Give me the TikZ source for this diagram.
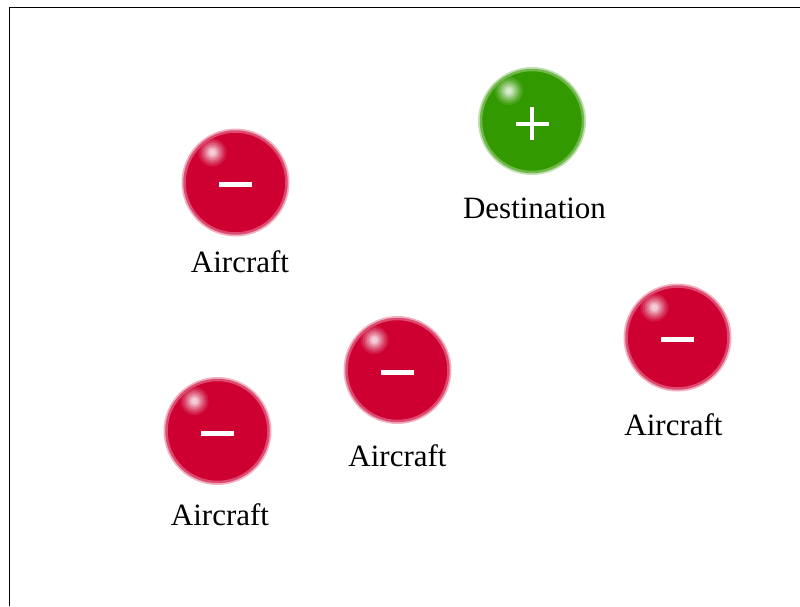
\documentclass[tikz,border=0pt]{standalone}
\usepackage{fontspec}
\setmainfont{Liberation Serif}
\definecolor{ballred}{RGB}{206,0,50}
\definecolor{ballgreen}{RGB}{51,153,0}
\begin{document}
\begin{tikzpicture}[x=1pt,y=-1pt,
  ball/.style={circle, minimum size=102pt, inner sep=0pt, fill=#1, draw=#1!70, line width=2.5pt,
    preaction={draw=#1!30, line width=6pt},
    path picture={
      \foreach \r/\o in {14/0.10, 12/0.12, 10/0.16, 8/0.2, 6/0.25, 4.5/0.3, 3/0.3}
        \fill[white, opacity=\o] ([shift={(-23pt,30pt)}]path picture bounding box.center) circle (\r pt);}},
  signbar/.style={draw=white, line width=5pt},
  lbl/.style={anchor=base, inner sep=0pt, font=\fontsize{31}{31}\selectfont}
]
\useasboundingbox (0,0) rectangle (800,606);
\draw[line width=1.3pt] (800,7.3) -| (9.3,606);

% spheres
\node[ball=ballgreen] (dest) at (532,121) {};
\node[ball=ballred] (a1) at (235.5,182.5) {};
\node[ball=ballred] (a2) at (217.5,431) {};
\node[ball=ballred] (a3) at (397.5,370) {};
\node[ball=ballred] (a4) at (677.5,337.5) {};

% signs
\draw[signbar, line width=4pt] ([shift={(-16.5pt,-2.5pt)}]dest.center) -- ([shift={(16.5pt,-2.5pt)}]dest.center);
\draw[signbar, line width=4pt] ([shift={(0pt,14pt)}]dest.center) -- ([shift={(0pt,-19pt)}]dest.center);
\foreach \b in {a1,a2,a3,a4}
  \draw[signbar] ([shift={(-16.5pt,-2pt)}]\b.center) -- ([shift={(16.5pt,-2pt)}]\b.center);

% labels
\node[lbl] (ldest) at (534.5,218) {Destination};
\node[lbl] (l1) at (240,272) {Aircraft};
\node[lbl] (l2) at (220,525) {Aircraft};
\node[lbl] (l3) at (397.5,466) {Aircraft};
\node[lbl] (l4) at (673.5,435) {Aircraft};
\end{tikzpicture}
\end{document}
